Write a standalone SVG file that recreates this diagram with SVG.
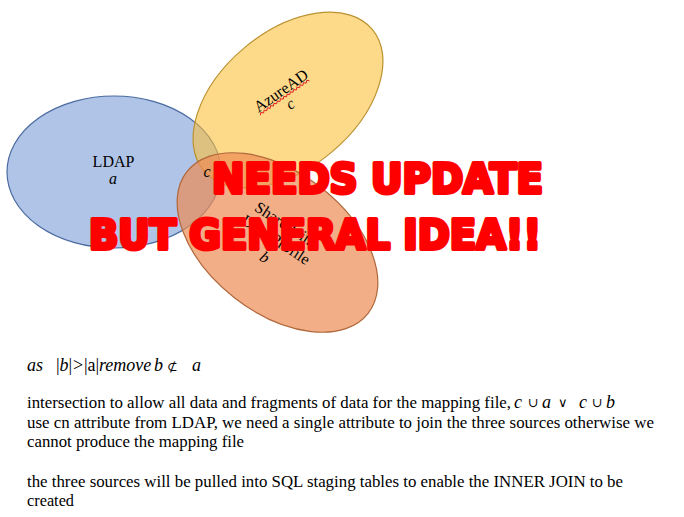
<svg xmlns="http://www.w3.org/2000/svg" width="684" height="517" viewBox="0 0 684 517">
<style>
.lbl{font-family:"Liberation Serif","DejaVu Serif",serif;font-size:16px;fill:#000;text-anchor:middle}
.it{font-style:italic}
.body{font-family:"Liberation Serif","DejaVu Serif",serif;font-size:16.5px;fill:#000}
.math{font-family:"Liberation Serif","DejaVu Serif",serif;font-size:18px;fill:#000}
.op{font-family:"DejaVu Serif","Liberation Serif",serif;font-size:13px;fill:#000}
.warn{font-family:"DejaVu Sans","Liberation Sans",sans-serif;font-weight:bold;fill:#ff0000;stroke:#ff0000;stroke-width:4;stroke-linejoin:round}
</style>
<rect width="684" height="517" fill="#ffffff"/>
<g id="ldap">
<ellipse cx="114" cy="172" rx="107" ry="76" fill="#afc4e6" stroke="#4a6aa0" stroke-width="1.2"/>
<text class="lbl" x="113.5" y="167">LDAP</text>
<text class="lbl it" x="113" y="184">a</text>
</g>
<g id="azuread">
<ellipse cx="288" cy="100" rx="110" ry="68" transform="rotate(-40 288 100)" fill="#fcc03c" fill-opacity="0.6" stroke="#bb922f" stroke-width="1.2"/>
<g transform="translate(284,95) rotate(-35)">
<text class="lbl" x="0" y="0">AzureAD</text>
<path d="M-31,3 l2,-2 l2,2 l2,-2 l2,2 l2,-2 l2,2 l2,-2 l2,2 l2,-2 l2,2 l2,-2 l2,2 l2,-2 l2,2 l2,-2 l2,2 l2,-2 l2,2 l2,-2 l2,2 l2,-2 l2,2 l2,-2 l2,2 l2,-2 l2,2 l2,-2 l2,2 l2,-2 l2,2" fill="none" stroke="#e0201e" stroke-width="0.9"/>
<text class="lbl it" x="0" y="16">c</text>
</g>
</g>
<g id="sharepoint">
<ellipse cx="277.5" cy="242.5" rx="115" ry="70" transform="rotate(38 277.5 242.5)" fill="#ec8b54" fill-opacity="0.7" stroke="#b0673a" stroke-width="1.2"/>
<g transform="translate(283,229) rotate(33)">
<text class="lbl" x="0" y="0">SharePoint</text>
<text class="lbl" x="0" y="18">User Profile</text>
<text class="lbl it" x="0" y="39">b</text>
</g>
<text class="lbl it" x="207" y="177">c</text>
</g>
<g id="connectors"></g>
<g id="notes">
<text class="math" y="371"><tspan x="27" class="it">as</tspan><tspan x="56">|</tspan><tspan class="it">b</tspan><tspan>|</tspan><tspan x="73">&gt;</tspan><tspan x="84">|a|</tspan><tspan x="99" class="it">remove</tspan><tspan x="154" class="it">b</tspan></text>
<text class="op" x="167" y="371" font-size="14">⊄</text>
<text class="math it" x="192" y="371">a</text>
<text class="body" x="27" y="408" textLength="484" lengthAdjust="spacingAndGlyphs">intersection to allow all data and fragments of data for the mapping file,</text>
<text class="math it" x="514" y="408">c</text>
<text class="op" x="528" y="407">∪</text>
<text class="math it" x="542" y="408">a</text>
<text class="op" x="558" y="407">∨</text>
<text class="math it" x="579" y="408">c</text>
<text class="op" x="592" y="407">∪</text>
<text class="math it" x="606" y="408">b</text>
<text class="body" x="27" y="428" textLength="627" lengthAdjust="spacingAndGlyphs">use cn attribute from LDAP, we need a single attribute to join the three sources otherwise we</text>
<text class="body" x="27" y="447" textLength="217" lengthAdjust="spacingAndGlyphs">cannot produce the mapping file</text>
<text class="body" x="27" y="487" textLength="596" lengthAdjust="spacingAndGlyphs">the three sources will be pulled into SQL staging tables to enable the INNER JOIN to be</text>
<text class="body" x="27" y="506" textLength="47" lengthAdjust="spacingAndGlyphs">created</text>
</g>
<g id="overlay">
<text class="warn" x="212" y="193" font-size="40" textLength="331" lengthAdjust="spacingAndGlyphs">NEEDS UPDATE</text>
<text class="warn" x="89" y="249" font-size="40" textLength="452" lengthAdjust="spacingAndGlyphs">BUT GENERAL IDEA!!</text>
</g>
</svg>
